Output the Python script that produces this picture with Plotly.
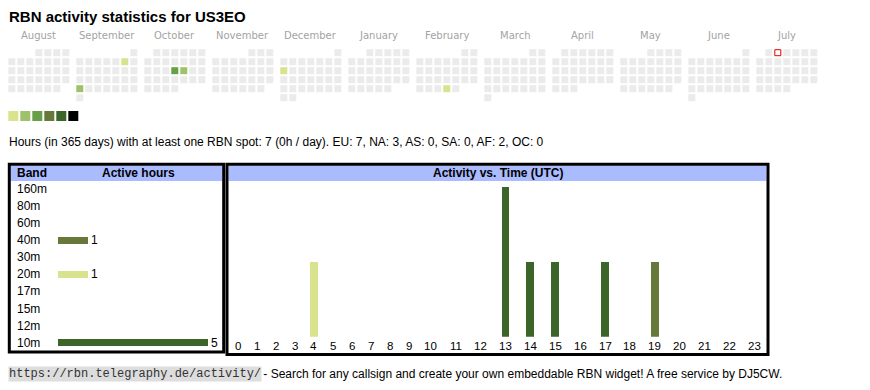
import datetime as dt
import plotly.graph_objects as go

W, H = 870, 390

# ---------------- data ----------------
title_text = "RBN activity statistics for US3EO"
month_names = ["August", "September", "October", "November", "December", "January",
               "February", "March", "April", "May", "June", "July"]
start_year, start_month = 2024, 8
active_days = ["2024-09-07", "2024-09-23", "2024-10-17", "2024-10-18", "2024-12-09", "2025-02-27"]
active_levels = [1, 2, 3, 2, 1, 1]
today = "2025-07-02"
level_colors = ["#d9e38d", "#9dc26a", "#68a047", "#66793a", "#3c6529", "#000000"]
empty_color = "#ebebeb"

summary_text = ("Hours (in 365 days) with at least one RBN spot: 7 (0h / day). "
                "EU: 7, NA: 3, AS: 0, SA: 0, AF: 2, OC: 0")

bands = ["160m", "80m", "60m", "40m", "30m", "20m", "17m", "15m", "12m", "10m"]
band_hours = [0, 0, 0, 1, 0, 1, 0, 0, 0, 5]
band_colors = ["#ffffff", "#ffffff", "#ffffff", "#66793a", "#ffffff",
               "#d9e38d", "#ffffff", "#ffffff", "#ffffff", "#3c6529"]

hour_labels = ["0", "1", "2", "3", "4", "5", "6", "7", "8", "9", "10", "11",
               "12", "13", "14", "15", "16", "17", "18", "19", "20", "21", "22", "23"]
hours_10m = [0, 0, 0, 0, 0, 0, 0, 0, 0, 0, 0, 0, 0, 2, 1, 1, 0, 1, 0, 0, 0, 0, 0, 0]
hours_20m = [0, 0, 0, 0, 1, 0, 0, 0, 0, 0, 0, 0, 0, 0, 0, 0, 0, 0, 0, 0, 0, 0, 0, 0]
hours_40m = [0, 0, 0, 0, 0, 0, 0, 0, 0, 0, 0, 0, 0, 0, 0, 0, 0, 0, 0, 1, 0, 0, 0, 0]
color_10m, color_20m, color_40m = "#3c6529", "#d9e38d", "#66793a"

footer_url = "https://rbn.telegraphy.de/activity/"
footer_text = " - Search for any callsign and create your own embeddable RBN widget! A free service by DJ5CW."

# ---------------- layout helpers ----------------
SANS = "Liberation Sans, Arial, sans-serif"
CX0, CY0, CELL, MONTH_PITCH = 11.8, 52.7, 9, 68


def px(x):
    return x / W


def py(y):
    return 1 - y / H


fig = go.Figure()

# ---- calendar ----
act = dict(zip(active_days, active_levels))
cal_x, cal_y, cal_c = [], [], []
today_xy = None
month_centers = []
for m in range(12):
    yr = start_year + (start_month - 1 + m) // 12
    mo = (start_month - 1 + m) % 12 + 1
    first = dt.date(yr, mo, 1)
    nxt = dt.date(yr + (mo == 12), mo % 12 + 1, 1)
    month_centers.append(CX0 + m * MONTH_PITCH + 3 * CELL)
    for d in range((nxt - first).days):
        day = first + dt.timedelta(days=d)
        row = (d + first.weekday()) // 7
        x = CX0 + m * MONTH_PITCH + day.weekday() * CELL
        y = CY0 + row * CELL
        lev = act.get(day.isoformat())
        if day.isoformat() == today:
            today_xy = (x, y)
            continue
        cal_x.append(x)
        cal_y.append(y)
        cal_c.append(level_colors[lev - 1] if lev else empty_color)

fig.add_trace(go.Scatter(x=cal_x, y=cal_y, mode="markers", xaxis="x", yaxis="y",
                         marker=dict(symbol="square", size=7, color=cal_c, line=dict(width=0)),
                         hoverinfo="skip", showlegend=False))
fig.add_trace(go.Scatter(x=[today_xy[0]], y=[today_xy[1]], mode="markers", xaxis="x", yaxis="y",
                         marker=dict(symbol="square", size=6, color="#ffffff",
                                     line=dict(width=1, color="#e00000")),
                         hoverinfo="skip", showlegend=False))
# legend squares
fig.add_trace(go.Scatter(x=[13.3 + i * 12 for i in range(len(level_colors))],
                         y=[116] * len(level_colors), mode="markers", xaxis="x", yaxis="y",
                         marker=dict(symbol="square", size=10, color=level_colors, line=dict(width=0)),
                         hoverinfo="skip", showlegend=False))

annotations = []
for name, cx in zip(month_names, month_centers):
    annotations.append(dict(x=cx, y=35, xref="x", yref="y", text=name, showarrow=False,
                            xanchor="center", yanchor="middle",
                            font=dict(family="DejaVu Sans", size=10, color="#a3a3a3")))

# ---- band bars ----
fig.add_trace(go.Bar(y=bands, x=band_hours, orientation="h", xaxis="x2", yaxis="y2",
                     marker=dict(color=band_colors, line=dict(width=0)), width=0.39,
                     text=[str(v) if v else "" for v in band_hours], textposition="outside",
                     constraintext="none", cliponaxis=False,
                     textfont=dict(family=SANS, size=12, color="#000"),
                     hoverinfo="skip", showlegend=False))
for b in bands:
    annotations.append(dict(x=px(15), y=b, xref="paper", yref="y2", text=b, showarrow=False,
                            xanchor="left", yanchor="middle",
                            font=dict(family=SANS, size=12, color="#000")))

# ---- hour bars ----
widths = [13.1 + 5.9 * len(l) for l in hour_labels]
centers = []
acc = 0
for w in widths:
    centers.append(acc + w / 2)
    acc += w
total_w = acc
X3_START = 228.3
for vals, col in ((hours_10m, color_10m), (hours_20m, color_20m), (hours_40m, color_40m)):
    fig.add_trace(go.Bar(x=centers, y=vals, xaxis="x3", yaxis="y3", width=7.8,
                         marker=dict(color=col, line=dict(width=0)),
                         hoverinfo="skip", showlegend=False))
for l, c in zip(hour_labels, centers):
    annotations.append(dict(x=c, y=py(346), xref="x3", yref="paper", text=l, showarrow=False,
                            xanchor="center", yanchor="middle",
                            font=dict(family=SANS, size=11.5, color="#000")))

# ---- texts ----
annotations += [
    dict(x=px(7), y=py(17), xref="paper", yref="paper", text="<b>" + title_text + "</b>",
         showarrow=False, xanchor="left", yanchor="middle", font=dict(family=SANS, size=15, color="#000")),
    dict(x=px(7), y=py(142), xref="paper", yref="paper", text=summary_text,
         showarrow=False, xanchor="left", yanchor="middle", font=dict(family=SANS, size=12, color="#000")),
    dict(x=px(15), y=py(173), xref="paper", yref="paper", text="<b>Band</b>",
         showarrow=False, xanchor="left", yanchor="middle", font=dict(family=SANS, size=12, color="#000")),
    dict(x=px(138), y=py(173), xref="paper", yref="paper", text="<b>Active hours</b>",
         showarrow=False, xanchor="center", yanchor="middle", font=dict(family=SANS, size=12, color="#000")),
    dict(x=px(497.5), y=py(173), xref="paper", yref="paper", text="<b>Activity vs. Time (UTC)</b>",
         showarrow=False, xanchor="center", yanchor="middle", font=dict(family=SANS, size=12, color="#000")),
    dict(x=px(8), y=py(374), xref="paper", yref="paper", text=footer_url, bgcolor="#dddddd", borderpad=0,
         showarrow=False, xanchor="left", yanchor="middle",
         font=dict(family="Liberation Mono, Courier New, monospace", size=12, color="#333")),
    dict(x=px(258), y=py(374), xref="paper", yref="paper", text=footer_text,
         showarrow=False, xanchor="left", yanchor="middle", font=dict(family=SANS, size=12, color="#000")),
]

shapes = [
    dict(type="rect", xref="paper", yref="paper", x0=px(10.5), x1=px(222.5), y0=py(165.5), y1=py(181),
         fillcolor="#aabbff", line=dict(width=0), layer="below"),
    dict(type="rect", xref="paper", yref="paper", x0=px(228.5), x1=px(766.5), y0=py(165.5), y1=py(181),
         fillcolor="#aabbff", line=dict(width=0), layer="below"),
    dict(type="rect", xref="paper", yref="paper", x0=px(9.3), x1=px(223.7), y0=py(164.3), y1=py(352),
         line=dict(width=3, color="#000")),
    dict(type="rect", xref="paper", yref="paper", x0=px(227), x1=px(768), y0=py(164.3), y1=py(354.5),
         line=dict(width=3, color="#000")),
]

hidden = dict(visible=False, showgrid=False, zeroline=False, fixedrange=True)
fig.update_layout(
    width=W, height=H, margin=dict(l=0, r=0, t=0, b=0),
    paper_bgcolor="#ffffff", plot_bgcolor="rgba(0,0,0,0)",
    showlegend=False, barmode="stack", annotations=annotations, shapes=shapes,
    xaxis=dict(domain=[0, 1], range=[0, W], **hidden),
    yaxis=dict(domain=[0, 1], range=[H, 0], **hidden),
    xaxis2=dict(domain=[px(58), px(226)], range=[0, 5.6], anchor="y2", **hidden),
    yaxis2=dict(domain=[py(351.2), py(180.6)], type="category", categoryorder="array",
                categoryarray=bands, range=[9.5, -0.5], anchor="x2", **hidden),
    xaxis3=dict(domain=[px(X3_START), px(X3_START + total_w)], range=[0, total_w], anchor="y3", **hidden),
    yaxis3=dict(domain=[py(336.7), py(186.7)], range=[0, 2], anchor="x3", **hidden),
)

fig.write_html("out.html", config={"displayModeBar": False},
               post_script="document.body.style.margin='0';document.body.style.overflow='hidden';")
